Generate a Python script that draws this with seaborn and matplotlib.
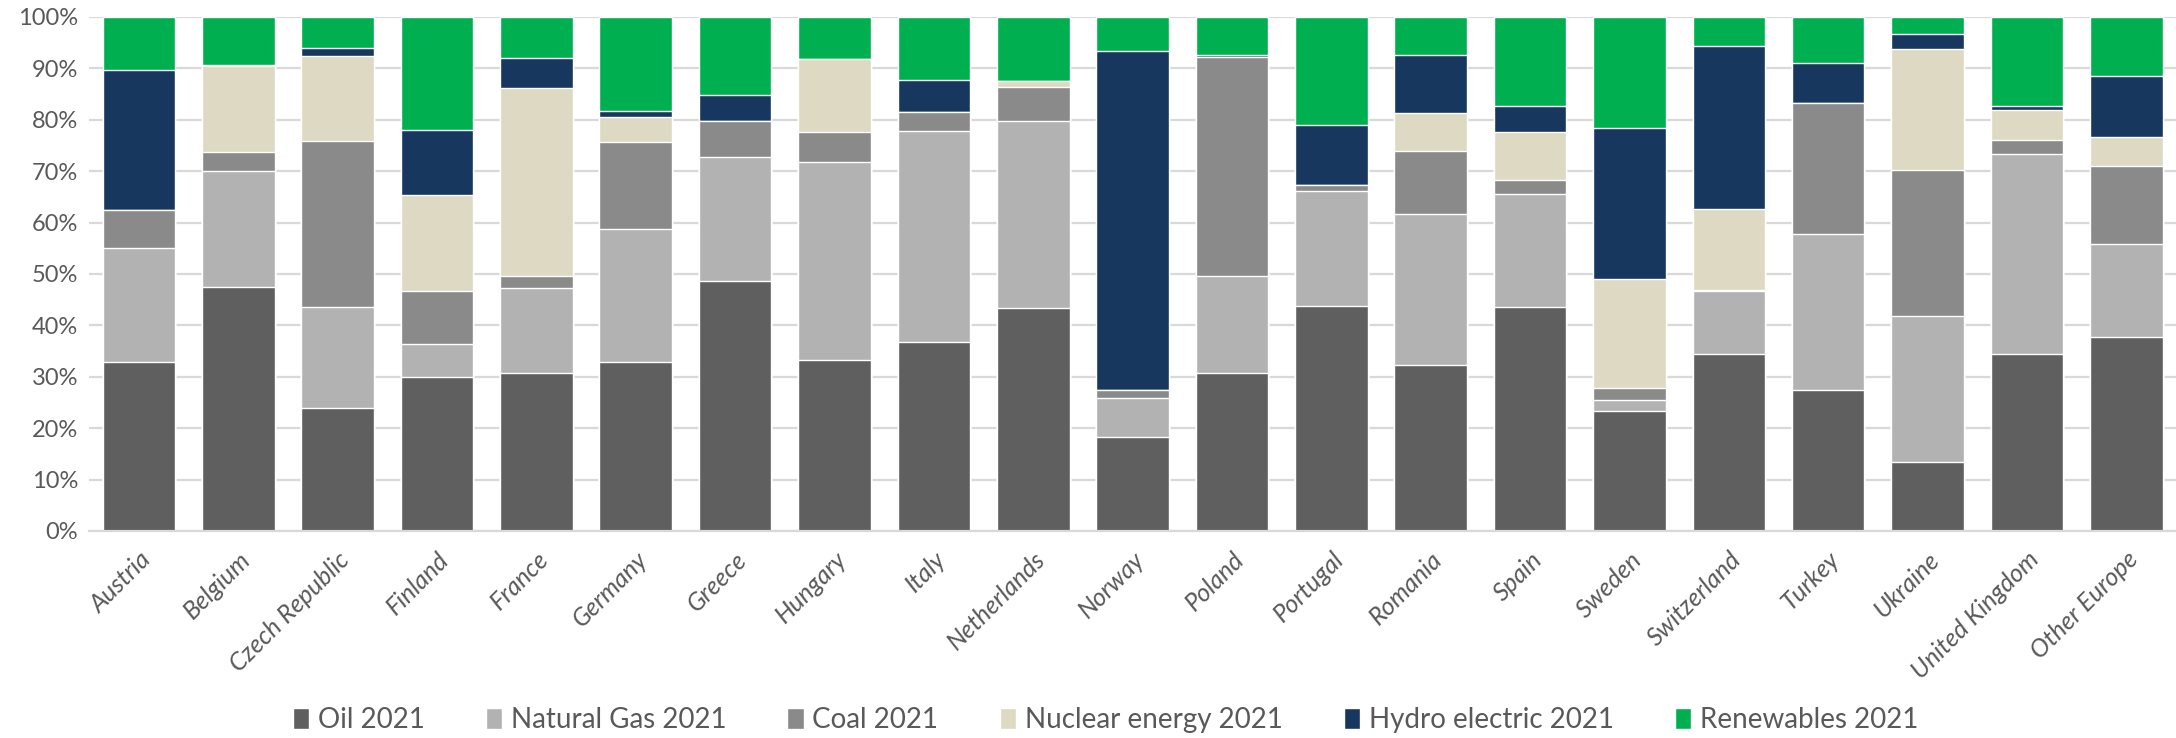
#! /usr/bin/env python3
# coding: utf-8
"""
Primary energy mix by country in 2021, 100% stacked bars.

Output:
  - out.png
"""
import numpy as np
import pandas as pd
import matplotlib.pyplot as plt
import seaborn as sb
from matplotlib.ticker import PercentFormatter

countries = ['Austria', 'Belgium', 'Czech Republic', 'Finland', 'France', 'Germany',
             'Greece', 'Hungary', 'Italy', 'Netherlands', 'Norway', 'Poland',
             'Portugal', 'Romania', 'Spain', 'Sweden', 'Switzerland', 'Turkey',
             'Ukraine', 'United Kingdom', 'Other Europe']

# shares in percent
oil = [32.9, 47.5, 24.0, 30.0, 30.7, 32.9, 48.7, 33.3, 36.7, 43.3, 18.2,
       30.8, 43.8, 32.3, 43.6, 23.3, 34.5, 27.4, 13.5, 34.5, 37.8]
natural_gas = [22.1, 22.5, 19.5, 6.4, 16.6, 25.9, 24.1, 38.5, 41.2, 36.5, 7.7,
               18.9, 22.3, 29.4, 22.0, 2.1, 12.2, 30.4, 28.3, 38.8, 18.0]
coal = [7.5, 3.7, 32.4, 10.3, 2.4, 16.8, 7.0, 5.8, 3.7, 6.6, 1.5,
        42.5, 1.2, 12.2, 2.7, 2.4, 0.2, 25.5, 28.5, 2.7, 15.3]
nuclear = [0.0, 16.7, 16.6, 18.6, 36.5, 4.9, 0.0, 14.2, 0.0, 1.1, 0.0,
           0.0, 0.0, 7.4, 9.3, 21.2, 15.7, 0.0, 23.4, 5.9, 5.5]
hydro = [27.1, 0.2, 1.4, 12.7, 5.8, 1.3, 5.1, 0.1, 6.2, 0.0, 66.0,
         0.4, 11.6, 11.3, 5.0, 29.4, 31.8, 7.7, 3.0, 0.7, 12.0]
renewables = [10.4, 9.4, 6.1, 22.0, 8.0, 18.2, 15.1, 8.1, 12.2, 12.5, 6.6,
              7.4, 21.1, 7.4, 17.4, 21.6, 5.6, 9.0, 3.3, 17.4, 11.4]

series = ['Oil 2021', 'Natural Gas 2021', 'Coal 2021', 'Nuclear energy 2021',
          'Hydro electric 2021', 'Renewables 2021']
colors = ['#5f5f5f', '#b2b2b2', '#8a8a8a', '#ddd9c3', '#17375e', '#00b050']
TEXT = '#595959'


def prep_data() -> pd.DataFrame:
    """Normalise each country to 100% and build cumulative tops per series."""
    shares = np.array([oil, natural_gas, coal, nuclear, hydro, renewables])
    shares = shares / shares.sum(axis=0) * 100
    tops = np.cumsum(shares, axis=0)
    frames = []
    for name, top in zip(series, tops):
        frames.append(pd.DataFrame({'country': countries, 'series': name, 'top': top}))
    return pd.concat(frames, ignore_index=True)


if __name__ == '__main__':
    data = prep_data()

    sb.set_style('white')
    plt.rcParams['font.family'] = ['Lato', 'DejaVu Sans']

    fig = plt.figure(figsize=(21.76, 7.38), dpi=100)
    ax = fig.add_axes([0.041, 0.2805, 0.959, 0.6965])

    # Draw cumulative tops from the last series down so each layer shows its own share
    for name, color in reversed(list(zip(series, colors))):
        sb.barplot(
            data=data[data['series'] == name],
            x='country',
            y='top',
            color=color,
            width=0.73,
            saturation=1,
            label=name,
            order=countries,
            ax=ax
        )

    ax.set_ylim(0, 100)
    ax.set_xlim(-0.5, len(countries) - 0.5)
    ax.set_yticks(np.arange(0, 101, 10))
    ax.yaxis.set_major_formatter(PercentFormatter(decimals=0))
    ax.set_axisbelow(True)
    ax.grid(axis='y', color='#d9d9d9', linewidth=1.6)
    for side in ['top', 'right', 'left']:
        ax.spines[side].set_visible(False)
    ax.spines['bottom'].set_color('#d9d9d9')
    ax.spines['bottom'].set_linewidth(1.6)
    ax.tick_params(axis='both', length=0, colors=TEXT, labelsize=17)
    ax.tick_params(axis='y', pad=8)
    ax.set_xlabel('')
    ax.set_ylabel('')
    ax.set_xticks(range(len(countries)))
    ax.set_xticklabels(countries, rotation=45, ha='right', rotation_mode='anchor',
                       style='italic', fontsize=18, color=TEXT)
    ax.tick_params(axis='x', pad=12)

    handles, labels = ax.get_legend_handles_labels()
    lookup = dict(zip(labels, handles))
    if ax.legend_:
        ax.legend_.remove()
    fig.legend([lookup[s] for s in series], series, loc='center', ncol=6,
               bbox_to_anchor=(0.508, 0.024), frameon=False, fontsize=20,
               labelcolor=TEXT, handlelength=0.6, handleheight=0.8,
               handletextpad=0.3, columnspacing=2.2)

    plt.savefig('out.png', dpi=100)
